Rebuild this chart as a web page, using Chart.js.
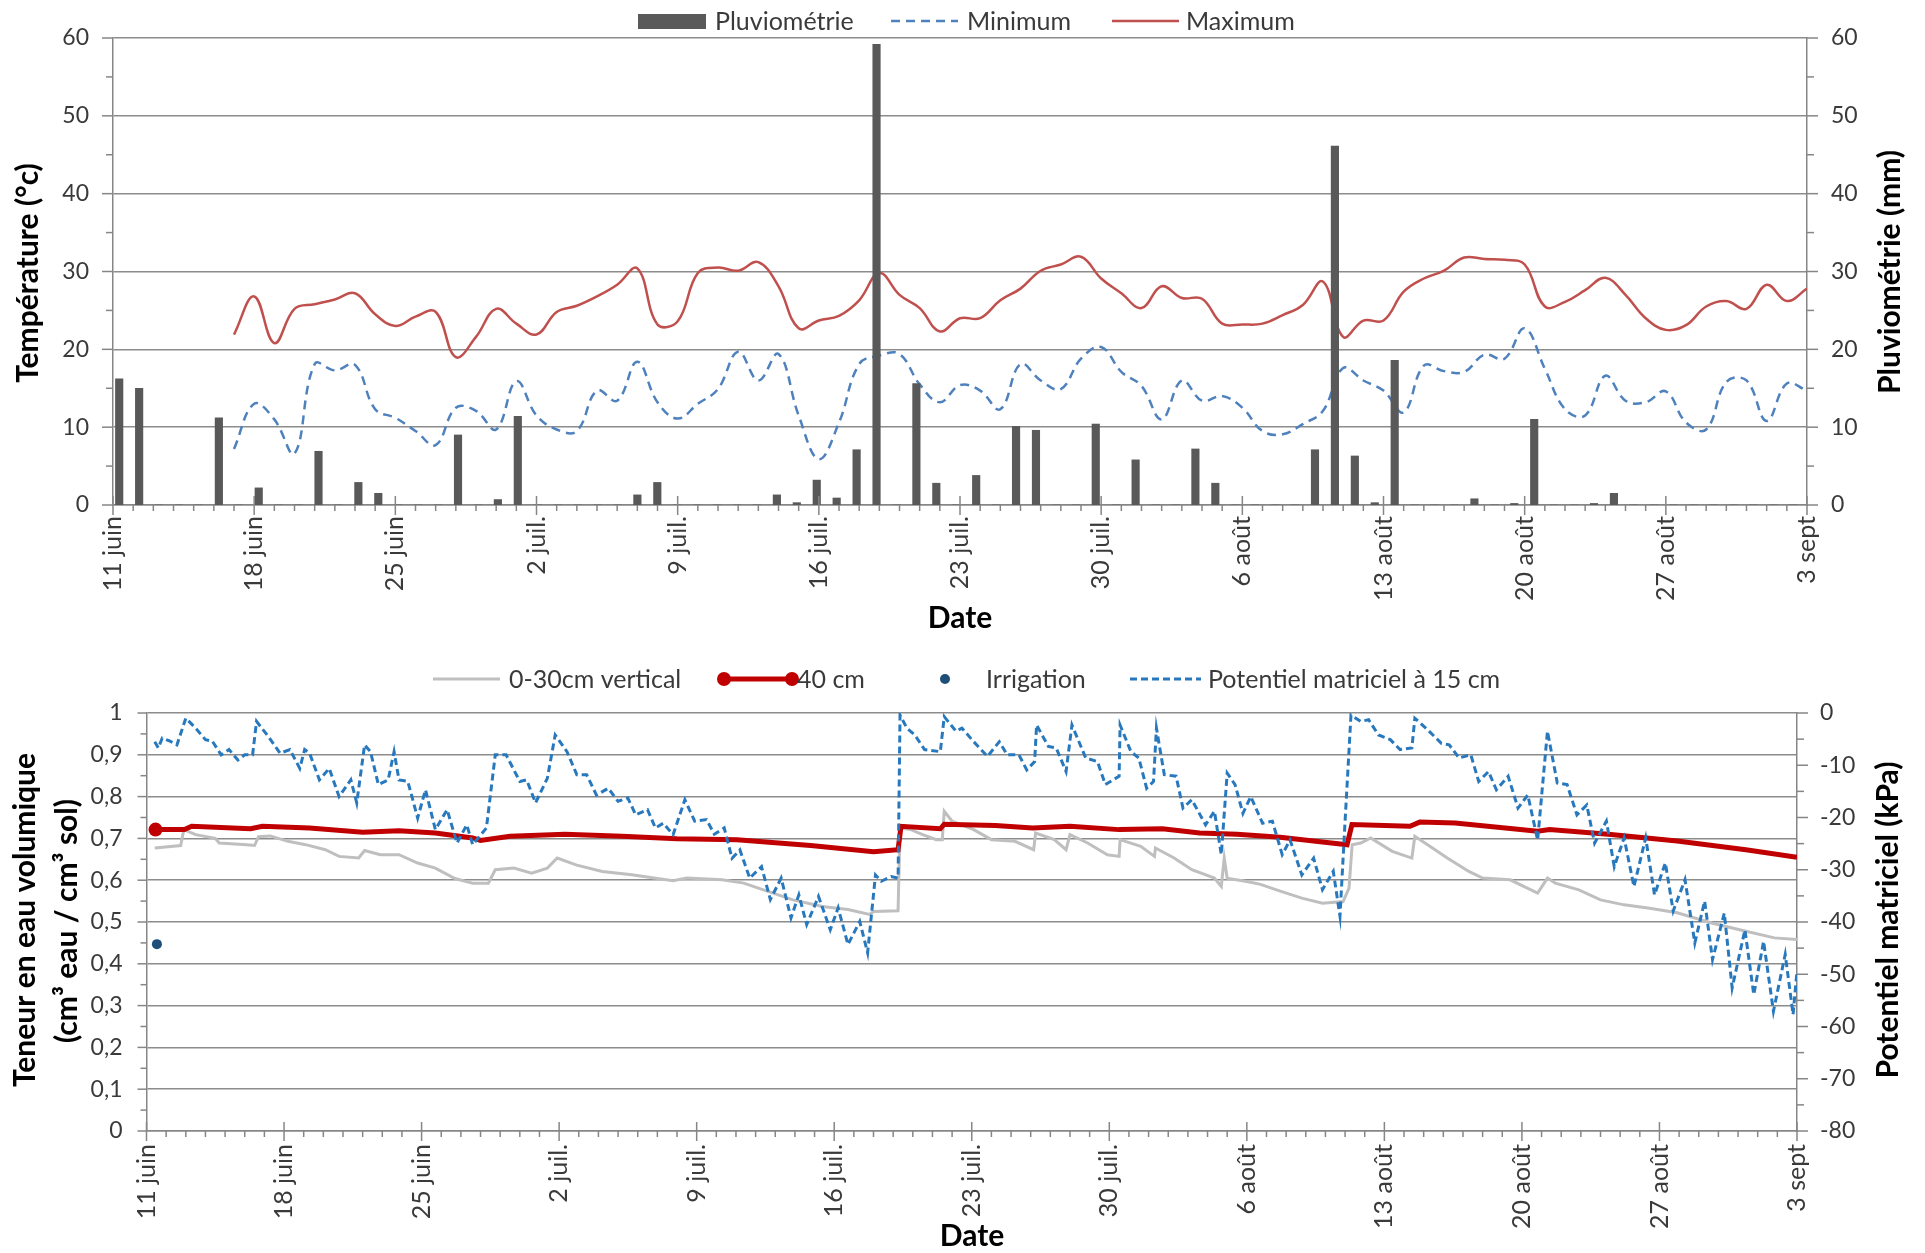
<!DOCTYPE html>
<html lang="fr">
<head>
<meta charset="utf-8">
<title>Météo et humidité du sol</title>
<script src="https://cdn.jsdelivr.net/npm/chart.js@4.4.1/dist/chart.umd.min.js"></script>
<style>
  html, body { margin: 0; padding: 0; background: #fff; }
  #haut, #bas { position: absolute; left: 0; }
  #haut { top: 0; }
  #bas { top: 640px; }
</style>
</head>
<body>
<canvas id="haut" width="1925" height="640"></canvas>
<canvas id="bas" width="1925" height="613"></canvas>
<script>
// semaines affichées sur l'axe des dates (jour 0 = 11 juin, une étiquette tous les 7 jours)
const semaines = ['11 juin', '18 juin', '25 juin', '2 juil.', '9 juil.', '16 juil.', '23 juil.',
  '30 juil.', '6 août', '13 août', '20 août', '27 août', '3 sept'];

// pluviométrie journalière (mm), du 11 juin au 3 sept
const pluie = [
  16.2, 15.0, 0, 0, 0, 11.2, 0, 2.2, 0, 0,
  6.9, 0, 2.9, 1.5, 0, 0, 0, 9.0, 0, 0.7,
  11.4, 0, 0, 0, 0, 0, 1.3, 2.9, 0, 0,
  0, 0, 0, 1.3, 0.3, 3.2, 0.9, 7.1, 59.2, 0,
  15.6, 2.8, 0, 3.8, 0, 10.1, 9.6, 0, 0, 10.4,
  0, 5.8, 0, 0, 7.2, 2.8, 0, 0, 0, 0,
  7.1, 46.1, 6.3, 0.3, 18.6, 0, 0, 0, 0.8, 0,
  0.2, 11.0, 0, 0, 0.2, 1.5, 0, 0, 0, 0,
  0, 0, 0, 0, 0
];

// températures journalières (°C), à partir du 17 juin (jour 6)
const debutTemp = 6;
const tMin = [
  7.2, 13.0, 11.0, 6.6, 18.1, 17.3, 18.0, 12.3, 11.2, 9.5,
  7.7, 12.5, 12.1, 9.7, 15.9, 11.5, 9.7, 9.5, 14.7, 13.4,
  18.4, 13.2, 11.1, 13.0, 14.9, 19.7, 16.0, 19.4, 11.5, 5.9,
  10.6, 18.1, 19.2, 19.4, 15.5, 13.2, 15.4, 14.7, 12.3, 18.1,
  16.0, 14.9, 18.8, 20.3, 17.1, 15.3, 11.0, 16.0, 13.4, 14.0,
  12.5, 9.5, 9.1, 10.4, 12.1, 17.6, 16.0, 14.7, 11.9, 17.9,
  17.2, 17.1, 19.3, 18.8, 22.7, 17.5, 12.3, 11.5, 16.6, 13.4,
  13.2, 14.6, 10.6, 9.7, 15.8, 16.0, 10.8, 15.6, 14.7
];
const tMax = [
  21.9, 26.8, 20.8, 25.2, 25.8, 26.4, 27.2, 24.5, 23.0, 24.2,
  24.8, 19.0, 21.6, 25.2, 23.3, 21.9, 24.8, 25.6, 26.8, 28.3,
  30.4, 23.2, 23.6, 29.8, 30.5, 30.1, 31.2, 28.1, 22.7, 23.7,
  24.3, 26.3, 29.8, 27.0, 25.3, 22.3, 24.0, 24.0, 26.3, 27.8,
  30.1, 30.9, 31.9, 29.1, 27.2, 25.3, 28.1, 26.6, 26.5, 23.3,
  23.2, 23.3, 24.4, 25.7, 28.7, 21.6, 23.7, 23.7, 27.4, 29.1,
  30.1, 31.8, 31.6, 31.5, 30.9, 25.5, 26.1, 27.6, 29.2, 27.0,
  24.0, 22.5, 23.1, 25.5, 26.2, 25.2, 28.3, 26.2, 27.8
];

// teneur en eau volumique 0-30 cm, [jour, cm3/cm3]
const teneur0_30 = [
  [0.42, 0.677], [1.74, 0.683], [1.9, 0.721], [2.5, 0.709], [3.5, 0.700], [3.7, 0.689], [5.1, 0.685],
  [5.5, 0.683], [5.7, 0.704], [6.3, 0.706], [7.2, 0.693], [8.1, 0.685], [9.1, 0.673], [9.8, 0.657],
  [10.8, 0.653], [11.1, 0.671], [11.9, 0.661], [12.85, 0.661], [13.8, 0.641], [14.7, 0.629],
  [15.7, 0.604], [16.6, 0.593], [17.4, 0.593], [17.75, 0.625], [18.7, 0.629], [19.6, 0.617],
  [20.4, 0.629], [20.9, 0.653], [21.9, 0.636], [23.2, 0.621], [24.7, 0.613], [26.0, 0.604],
  [26.8, 0.599], [27.5, 0.605], [29.3, 0.601], [30.4, 0.593], [31.4, 0.577], [32.9, 0.553],
  [34.4, 0.537], [35.7, 0.530], [36.8, 0.518], [37.0, 0.525], [38.25, 0.527], [38.35, 0.725],
  [38.9, 0.721], [39.5, 0.709], [40.2, 0.697], [40.5, 0.697], [40.6, 0.765], [41.0, 0.741],
  [42.1, 0.721], [43.0, 0.697], [44.2, 0.693], [45.15, 0.673], [45.25, 0.713], [46.2, 0.697],
  [46.8, 0.673], [47.0, 0.709], [47.9, 0.689], [48.9, 0.661], [49.5, 0.657], [49.55, 0.697],
  [50.6, 0.681], [51.3, 0.657], [51.35, 0.677], [52.3, 0.653], [53.2, 0.625], [54.35, 0.605],
  [54.7, 0.585], [54.85, 0.653], [55.0, 0.605], [56.0, 0.597], [56.7, 0.590], [57.7, 0.574],
  [58.8, 0.557], [59.85, 0.545], [60.9, 0.549], [61.2, 0.581], [61.36, 0.685], [61.8, 0.689],
  [62.3, 0.701], [63.4, 0.669], [64.4, 0.653], [64.55, 0.705], [65.2, 0.685], [66.2, 0.653],
  [67.3, 0.621], [68.0, 0.605], [69.4, 0.601], [70.8, 0.569], [71.3, 0.605], [71.7, 0.593],
  [72.9, 0.577], [74.0, 0.553], [75.2, 0.541], [76.5, 0.533], [77.9, 0.522], [79.7, 0.497],
  [81.4, 0.478], [82.85, 0.462], [84.0, 0.458]
];

// teneur en eau volumique à 40 cm, [jour, cm3/cm3]
const teneur40 = [
  [0.46, 0.721], [1.93, 0.721], [2.3, 0.729], [5.3, 0.723], [5.9, 0.729], [8.3, 0.725], [11.0, 0.715],
  [12.85, 0.718], [14.7, 0.713], [16.6, 0.701], [17.0, 0.695], [18.5, 0.705], [21.3, 0.710],
  [24.2, 0.705], [27.0, 0.699], [30.05, 0.697], [33.8, 0.683], [37.0, 0.668], [38.25, 0.673],
  [38.4, 0.729], [40.4, 0.723], [40.6, 0.734], [43.2, 0.731], [45.1, 0.725], [47.0, 0.729],
  [49.5, 0.721], [51.7, 0.723], [53.6, 0.713], [55.5, 0.710], [57.7, 0.703], [61.1, 0.685],
  [61.35, 0.733], [64.3, 0.729], [64.8, 0.739], [66.6, 0.737], [70.8, 0.717], [71.4, 0.721],
  [74.4, 0.710], [77.9, 0.694], [81.4, 0.673], [84.0, 0.655]
];

// apports d'irrigation, [jour, position sur l'axe de teneur]
const irrigation = [[0.53, 0.447]];

// potentiel matriciel à 15 cm, [jour, kPa]
const potentiel = [
  [0.42, -5.5], [0.6, -6.7], [0.8, -4.8], [1.2, -5.4], [1.55, -6.1], [2.0, -1.0], [2.5, -2.9],
  [3.0, -5.1], [3.35, -5.4], [3.8, -8.0], [4.2, -7.0], [4.65, -9.0], [5.0, -8.0], [5.4, -8.0],
  [5.6, -1.6], [6.2, -4.5], [6.8, -7.7], [7.3, -7.0], [7.8, -10.6], [8.05, -7.0], [8.3, -7.7],
  [8.8, -12.8], [9.3, -10.6], [9.8, -16.0], [10.4, -12.8], [10.7, -17.2], [11.1, -6.1],
  [11.4, -7.4], [11.8, -13.7], [12.3, -12.8], [12.6, -7.4], [12.85, -12.8], [13.3, -13.1],
  [13.8, -20.1], [14.2, -14.7], [14.7, -22.3], [15.3, -18.5], [15.8, -24.9], [16.3, -21.4],
  [16.6, -25.2], [17.3, -22.0], [17.75, -8.0], [18.3, -8.0], [19.0, -13.1], [19.35, -12.8],
  [19.8, -17.2], [20.4, -12.5], [20.8, -4.2], [21.4, -7.4], [21.9, -11.8], [22.4, -11.8],
  [22.9, -15.7], [23.5, -14.4], [24.0, -16.9], [24.5, -16.3], [24.9, -19.5], [25.5, -18.5],
  [25.9, -22.0], [26.3, -21.1], [26.8, -23.3], [27.4, -16.6], [27.9, -20.7], [28.5, -20.4],
  [28.9, -23.2], [29.4, -22.0], [29.8, -27.8], [30.2, -26.2], [30.7, -31.6], [31.3, -29.4],
  [31.75, -35.7], [32.3, -31.6], [32.8, -39.2], [33.2, -34.8], [33.6, -40.5], [34.2, -35.1],
  [34.8, -41.5], [35.2, -37.3], [35.7, -44.3], [36.3, -39.9], [36.7, -45.9], [37.1, -31.0],
  [37.4, -32.2], [37.9, -31.3], [38.25, -31.6], [38.35, -0.4], [38.7, -2.9], [39.1, -4.2],
  [39.6, -7.0], [40.4, -7.4], [40.6, -0.7], [41.2, -3.5], [41.5, -2.9], [42.1, -5.5],
  [42.8, -8.3], [43.4, -5.5], [43.8, -8.0], [44.4, -8.0], [44.8, -10.9], [45.2, -9.3],
  [45.3, -2.3], [45.9, -6.4], [46.3, -6.7], [46.8, -11.2], [47.1, -2.3], [47.8, -8.6],
  [48.4, -9.3], [48.8, -13.7], [49.5, -12.1], [49.55, -2.3], [50.1, -7.4], [50.5, -8.6],
  [50.9, -14.4], [51.25, -13.1], [51.4, -2.9], [51.8, -11.8], [52.4, -12.1], [52.75, -18.2],
  [53.2, -16.6], [53.9, -21.4], [54.35, -18.8], [54.7, -27.1], [55.0, -11.5], [55.4, -13.7],
  [55.8, -19.2], [56.2, -16.0], [56.8, -21.1], [57.3, -20.7], [57.8, -27.1], [58.2, -24.3],
  [58.8, -31.0], [59.4, -27.8], [59.85, -33.8], [60.4, -30.3], [60.74, -38.9], [61.0, -20.7],
  [61.3, -0.4], [61.8, -1.6], [62.2, -1.3], [62.7, -4.2], [63.3, -5.1], [63.8, -7.0],
  [64.4, -6.7], [64.55, -1.0], [65.2, -3.2], [65.9, -5.8], [66.3, -6.1], [66.8, -8.6],
  [67.4, -8.0], [67.8, -13.1], [68.3, -11.2], [68.7, -14.7], [69.3, -12.1], [69.8, -18.2],
  [70.3, -15.7], [70.8, -24.3], [71.3, -3.5], [71.8, -13.4], [72.3, -13.7], [72.8, -19.5],
  [73.3, -17.6], [73.7, -24.9], [74.3, -20.7], [74.7, -29.4], [75.2, -23.9], [75.7, -33.2],
  [76.3, -23.9], [76.75, -34.8], [77.3, -28.7], [77.7, -37.9], [78.3, -31.9], [78.8, -44.0],
  [79.3, -36.0], [79.7, -47.2], [80.3, -38.3], [80.7, -52.6], [81.35, -41.5], [81.8, -53.9],
  [82.3, -43.7], [82.8, -57.1], [83.4, -46.2], [83.8, -57.7], [84.0, -49.4]
];

// libellés des jours pour l'axe des barres (un par valeur de pluie)
const jours = [];
for (let i = 0; i < pluie.length; i++) {
  const d = new Date(2013, 5, 11 + i);
  jours.push(d.getDate() + '/' + (d.getMonth() + 1));
}

const POLICE = 'Lato, "Open Sans", sans-serif';
const GRIS_AXE = '#868686';
const TEXTE = '#3a3a3a';
const toXY = arr => arr.map(p => ({ x: p[0], y: p[1] }));

// petites et grandes graduations, dessinées à la main (longueurs différentes)
const graduations = {
  id: 'graduations',
  afterDraw(chart, args, opts) {
    const ctx = chart.ctx;
    ctx.save();
    ctx.strokeStyle = GRIS_AXE;
    ctx.lineWidth = 1.5;
    for (const a of opts.axes) {
      const s = chart.scales[a.id];
      const n = Math.round((s.max - s.min) / a.step);
      for (let k = 0; k <= n; k++) {
        const v = s.min + k * a.step;
        const r = v / a.major;
        const [dedans, dehors] = Math.abs(r - Math.round(r)) < 1e-6 ? a.majLen : a.minLen;
        const p = s.getPixelForValue(v);
        ctx.beginPath();
        if (s.position === 'bottom') {
          ctx.moveTo(p, s.top - dedans); ctx.lineTo(p, s.top + dehors);
        } else if (s.position === 'left') {
          ctx.moveTo(s.right - dehors, p); ctx.lineTo(s.right + dedans, p);
        } else {
          ctx.moveTo(s.left - dedans, p); ctx.lineTo(s.left + dehors, p);
        }
        ctx.stroke();
      }
    }
    ctx.restore();
  }
};

// légende en ligne au-dessus du graphique
const legende = {
  id: 'legende',
  afterDraw(chart, args, opts) {
    const ctx = chart.ctx;
    const y = opts.y;
    ctx.save();
    ctx.font = '25px ' + POLICE;
    ctx.textBaseline = 'middle';
    for (const it of opts.items) {
      const ds = chart.data.datasets[it.ds];
      const coul = it.kind === 'rect' ? ds.backgroundColor : (it.kind === 'dot' ? ds.pointBackgroundColor : ds.borderColor);
      ctx.fillStyle = coul;
      ctx.strokeStyle = coul;
      ctx.lineWidth = ds.borderWidth || 2;
      ctx.setLineDash(it.kind === 'line' && ds.borderDash ? ds.borderDash : []);
      if (it.kind === 'rect') {
        ctx.fillRect(it.x0, y - 7, it.x1 - it.x0, 15);
      } else if (it.kind === 'dot') {
        ctx.beginPath(); ctx.arc(it.x0, y, 5, 0, Math.PI * 2); ctx.fill();
      } else {
        ctx.beginPath(); ctx.moveTo(it.x0, y); ctx.lineTo(it.x1, y); ctx.stroke();
        if (it.marks) {
          for (const x of [it.x0, it.x1]) { ctx.beginPath(); ctx.arc(x, y, 7, 0, Math.PI * 2); ctx.fill(); }
        }
      }
      ctx.setLineDash([]);
      ctx.fillStyle = TEXTE;
      ctx.fillText(ds.label, it.tx, y + 1);
    }
    ctx.restore();
  }
};

// titres d'axes (les titres verticaux se lisent de bas en haut des deux côtés)
const titres = {
  id: 'titres',
  afterDraw(chart, args, opts) {
    const ctx = chart.ctx;
    ctx.save();
    ctx.font = 'bold 30px ' + POLICE;
    ctx.fillStyle = '#000';
    ctx.textAlign = 'center';
    ctx.textBaseline = 'middle';
    for (const t of opts.items) {
      ctx.save();
      ctx.translate(t.x, t.y);
      if (t.vertical) ctx.rotate(-Math.PI / 2);
      ctx.fillText(t.text, 0, 0);
      ctx.restore();
    }
    ctx.restore();
  }
};

const policeTicks = { family: POLICE, size: 23 };
const axeDates = (hauteur, pad) => ({
  type: 'linear', position: 'bottom', min: 0, max: 84, offset: false,
  afterFit: s => { s.height = hauteur; },
  afterBuildTicks: s => { s.ticks = semaines.map((_, i) => ({ value: i * 7 })); },
  ticks: { callback: v => semaines[Math.round(v / 7)], minRotation: 90, maxRotation: 90, autoSkip: false,
    font: { family: POLICE, size: 25 }, color: TEXTE, padding: pad },
  grid: { display: false, drawTicks: false },
  border: { display: true, color: GRIS_AXE, width: 1.5 }
});

new Chart(document.getElementById('haut'), {
  type: 'line',
  data: {
    datasets: [
      { type: 'bar', label: 'Pluviométrie', data: pluie, xAxisID: 'xJour', yAxisID: 'yPluie',
        backgroundColor: '#595959', borderWidth: 0, barThickness: 7.5, order: 0 },
      { label: 'Minimum', data: tMin.map((v, i) => ({ x: debutTemp + i, y: v })), xAxisID: 'x', yAxisID: 'yTemp',
        borderColor: '#4F81BD', borderDash: [9, 6], borderWidth: 2.5, pointRadius: 0, tension: 0.4, order: 1 },
      { label: 'Maximum', data: tMax.map((v, i) => ({ x: debutTemp + i, y: v })), xAxisID: 'x', yAxisID: 'yTemp',
        borderColor: '#C0504D', borderWidth: 2.5, pointRadius: 0, tension: 0.4, order: 1 }
    ]
  },
  options: {
    responsive: false, animation: false,
    layout: { padding: { top: 38, left: 0, right: 0, bottom: 0 } },
    plugins: {
      legend: { display: false }, tooltip: { enabled: false },
      legende: { y: 21, items: [
        { ds: 0, kind: 'rect', x0: 638, x1: 706, tx: 715 },
        { ds: 1, kind: 'line', x0: 891, x1: 958, tx: 967 },
        { ds: 2, kind: 'line', x0: 1112, x1: 1179, tx: 1186 }
      ] },
      titres: { items: [
        { text: 'Température (°c)', x: 28, y: 273, vertical: true },
        { text: 'Pluviométrie (mm)', x: 1890, y: 272, vertical: true },
        { text: 'Date', x: 960, y: 618 }
      ] },
      graduations: { axes: [
        { id: 'x', step: 1, major: 7, minLen: [0, 6], majLen: [9, 10] },
        { id: 'yTemp', step: 5, major: 10, minLen: [0, 7], majLen: [0, 11] },
        { id: 'yPluie', step: 5, major: 10, minLen: [0, 7], majLen: [0, 11] }
      ] }
    },
    scales: {
      x: axeDates(135, 11),
      xJour: { type: 'category', labels: jours, offset: true, display: false },
      yTemp: { type: 'linear', position: 'left', min: 0, max: 60,
        afterFit: s => { s.width = 113; },
        ticks: { stepSize: 10, font: policeTicks, color: TEXTE, padding: 24 },
        grid: { color: '#8c8c8c', lineWidth: 1.5, drawTicks: false },
        border: { display: true, color: GRIS_AXE, width: 1.5 } },
      yPluie: { type: 'linear', position: 'right', min: 0, max: 60,
        afterFit: s => { s.width = 118; },
        ticks: { stepSize: 10, font: policeTicks, color: TEXTE, padding: 24 },
        grid: { display: false, drawTicks: false },
        border: { display: true, color: GRIS_AXE, width: 1.5 } }
    }
  },
  plugins: [graduations, legende, titres]
});

new Chart(document.getElementById('bas'), {
  type: 'line',
  data: {
    datasets: [
      { label: '0-30cm vertical', data: toXY(teneur0_30), yAxisID: 'yTeneur',
        borderColor: '#BFBFBF', borderWidth: 3, pointRadius: 0, order: 3 },
      { label: '40 cm', data: toXY(teneur40), yAxisID: 'yTeneur',
        borderColor: '#C00000', borderWidth: 5, pointBackgroundColor: '#C00000', pointBorderWidth: 0,
        pointRadius: c => (c.dataIndex === 0 ? 7 : 0), order: 2 },
      { label: 'Irrigation', data: toXY(irrigation), yAxisID: 'yTeneur', showLine: false,
        pointRadius: 5, pointBackgroundColor: '#1F4E79', pointBorderWidth: 0, order: 1 },
      { label: 'Potentiel matriciel à 15 cm', data: toXY(potentiel), yAxisID: 'yPot',
        borderColor: '#2878BD', borderDash: [7, 4], borderWidth: 3, pointRadius: 0, order: 0 }
    ]
  },
  options: {
    responsive: false, animation: false,
    layout: { padding: { top: 73, left: 0, right: 0, bottom: 0 } },
    plugins: {
      legend: { display: false }, tooltip: { enabled: false },
      legende: { y: 39, items: [
        { ds: 0, kind: 'line', x0: 433, x1: 500, tx: 509 },
        { ds: 1, kind: 'line', x0: 724, x1: 792, tx: 797, marks: true },
        { ds: 2, kind: 'dot', x0: 945, tx: 986 },
        { ds: 3, kind: 'line', x0: 1130, x1: 1201, tx: 1208 }
      ] },
      titres: { items: [
        { text: 'Teneur en eau volumique', x: 25, y: 280, vertical: true },
        { text: '(cm³ eau / cm³ sol)', x: 67, y: 281, vertical: true },
        { text: 'Potentiel matriciel (kPa)', x: 1888, y: 280, vertical: true },
        { text: 'Date', x: 972, y: 596 }
      ] },
      graduations: { axes: [
        { id: 'x', step: 1, major: 7, minLen: [0, 6], majLen: [9, 10] },
        { id: 'yTeneur', step: 0.05, major: 0.1, minLen: [0, 6], majLen: [0, 9] },
        { id: 'yPot', step: 5, major: 10, minLen: [0, 7], majLen: [0, 11] }
      ] }
    },
    scales: {
      x: axeDates(122, 13),
      yTeneur: { type: 'linear', position: 'left', min: 0, max: 1,
        afterFit: s => { s.width = 146.5; },
        ticks: { stepSize: 0.1, font: policeTicks, color: TEXTE, padding: 24,
          callback: v => (Math.abs(v) < 1e-9 ? '0' : Math.abs(v - 1) < 1e-9 ? '1' : v.toFixed(1).replace('.', ',')) },
        grid: { color: '#8c8c8c', lineWidth: 1.5, drawTicks: false },
        border: { display: true, color: GRIS_AXE, width: 1.5 } },
      yPot: { type: 'linear', position: 'right', min: -80, max: 0,
        afterFit: s => { s.width = 128; },
        ticks: { stepSize: 10, font: policeTicks, color: TEXTE, padding: 23 },
        grid: { display: false, drawTicks: false },
        border: { display: true, color: GRIS_AXE, width: 1.5 } }
    }
  },
  plugins: [graduations, legende, titres]
});
</script>
</body>
</html>
